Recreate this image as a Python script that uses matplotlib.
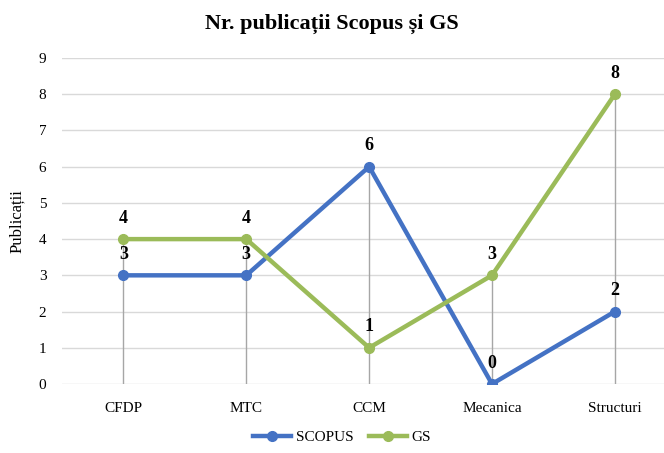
import matplotlib
matplotlib.use("Agg")
import matplotlib.pyplot as plt

categories = ["CFDP", "MTC", "CCM", "Mecanica", "Structuri"]
scopus = [3, 3, 6, 0, 2]
gs = [4, 4, 1, 3, 8]

plt.rcParams['font.family'] = ['Liberation Serif', 'DejaVu Serif']

fig = plt.figure(figsize=(6.64, 4.53), dpi=100)
ax = fig.add_axes([62/664, 1-384/453, 1-62/664, (384-58)/453])

x = list(range(len(categories)))
blue = "#4472C4"
green = "#9BBB59"

for i in x:
    ax.plot([i, i], [0, max(scopus[i], gs[i])], color="#A6A6A6", lw=1, zorder=1)

ax.plot(x, scopus, color=blue, lw=3.2, marker='o', ms=7, label="SCOPUS", zorder=3)
ax.plot(x, gs, color=green, lw=3.2, marker='o', ms=7, label="GS", zorder=3)

for i in x:
    ax.annotate(str(scopus[i]), (i, scopus[i]), xytext=(0, 9), textcoords='offset points',
                ha='center', va='bottom', fontsize=13, fontweight='bold', zorder=4)
    ax.annotate(str(gs[i]), (i, gs[i]), xytext=(0, 9), textcoords='offset points',
                ha='center', va='bottom', fontsize=13, fontweight='bold', zorder=4)

ax.set_ylim(0, 9)
ax.set_xlim(-0.5, 4.4)
ax.set_yticks(range(10))
ax.set_xticks(x)
ax.set_xticklabels(categories, fontsize=11)
ax.tick_params(axis='y', labelsize=11, length=0, pad=14)
ax.tick_params(axis='x', length=0, pad=13)
for lbl in ax.get_yticklabels():
    lbl.set_horizontalalignment('center')
ax.grid(axis='y', color="#D9D9D9", lw=1)
ax.set_axisbelow(True)
for s in ax.spines.values():
    s.set_visible(False)
ax.set_ylabel("Publicații", fontsize=12)
ax.yaxis.set_label_coords(-0.062, 0.5)

fig.suptitle("Nr. publicații Scopus și GS", fontsize=16, fontweight='bold', y=0.97)
fig.legend(loc='center', bbox_to_anchor=(0.515, 0.035), ncol=2, frameon=False,
           fontsize=11, handlelength=2.5, columnspacing=1.0, handletextpad=0.3)

fig.savefig("out.png", dpi=100)
